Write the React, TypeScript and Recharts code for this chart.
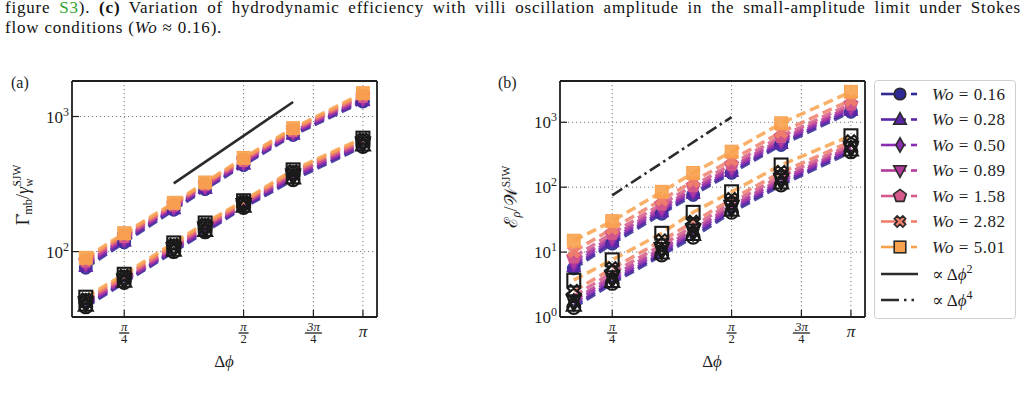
import React from 'react'
import { LineChart, Line, XAxis, YAxis, CartesianGrid } from 'recharts'

const SERIF = "'Liberation Serif', 'DejaVu Serif', serif"
const INK = '#1e1e1e'
const PI = Math.PI

// oscillation amplitude samples (rad)
const PHASE = [PI / 5, PI / 4, PI / 3, (2 * PI) / 5, PI / 2, (2 * PI) / 3, PI]

const WO = ['0.16', '0.28', '0.50', '0.89', '1.58', '2.82', '5.01']
const COLORS = ['#2d2a92', '#5a26a6', '#8b2db0', '#b23a9a', '#d5598a', '#ef7f6a', '#f8a24e']
const SHAPES = ['circle', 'triangle', 'diamond', 'triangleDown', 'pentagon', 'x', 'square']

// (a) mucus-bolus shear rate, filled markers / open markers, one row per Wo
const SHEAR_FILLED = [
  [76, 117, 204, 290, 437, 730, 1290],
  [78, 120, 208, 295, 445, 742, 1315],
  [80, 123, 212, 300, 452, 755, 1345],
  [82, 126, 216, 306, 462, 770, 1375],
  [85, 129, 221, 313, 472, 786, 1410],
  [87, 133, 225, 319, 483, 803, 1450],
  [90, 137, 230, 325, 494, 820, 1490],
]
const SHEAR_OPEN = [
  [39, 59, 100, 140, 212, 340, 600],
  [40, 60, 102, 143, 216, 350, 612],
  [41, 61, 104, 146, 220, 360, 626],
  [42, 62, 106, 150, 224, 370, 640],
  [43, 64, 109, 154, 228, 381, 656],
  [44, 66, 112, 158, 233, 392, 674],
  [46, 68, 116, 163, 238, 403, 692],
]

// (b) pumping energy over work, same layout
const ENERGY_FILLED = [
  [5.6, 13.5, 39, 76, 166, 447, 1450],
  [6.0, 14.5, 42, 81, 176, 475, 1540],
  [6.6, 15.8, 45, 87, 188, 505, 1630],
  [7.3, 17.2, 49, 94, 203, 545, 1750],
  [8.4, 19.5, 55, 105, 225, 605, 1920],
  [10.2, 23, 64, 123, 262, 705, 2200],
  [15, 30, 85, 166, 353, 966, 2950],
]
const ENERGY_OPEN = [
  [1.4, 3.3, 9.0, 17, 41, 108, 350],
  [1.5, 3.5, 9.6, 18.5, 44, 115, 370],
  [1.65, 3.8, 10.4, 20, 47, 123, 390],
  [1.8, 4.2, 11.4, 22, 51, 133, 415],
  [2.1, 4.8, 12.8, 25, 57, 148, 450],
  [2.5, 5.6, 15, 29, 65, 170, 505],
  [3.7, 7.6, 19.5, 41, 85, 220, 620],
]

// power-law guides
const SLOPE2 = [
  { phi: PI / 3, v: 320 },
  { phi: (2 * PI) / 3, v: 1280 },
]
const SLOPE4 = [
  { phi: PI / 4, v: 75 },
  { phi: PI / 2, v: 1200 },
]

const X_DOMAIN = [0.58, 3.409]
const X_MAJOR = [PI / 4, PI / 2, (3 * PI) / 4, PI]
const X_LABELS = [
  { num: 'π', den: '4' },
  { num: 'π', den: '2' },
  { num: '3π', den: '4' },
  { num: 'π', den: '' },
]
const X_MINOR = [0.6, 0.7, 0.8, 0.9, 2, 3]

const SHEAR_DOMAIN = [32.8, 1832]
const SHEAR_MAJOR = [100, 1000]
const SHEAR_MINOR = [40, 50, 60, 70, 80, 90, 200, 300, 400, 500, 600, 700, 800, 900]

const ENERGY_DOMAIN = [1, 4325]
const ENERGY_MAJOR = [1, 10, 100, 1000]
const ENERGY_MINOR = [
  2, 3, 4, 5, 6, 7, 8, 9, 20, 30, 40, 50, 60, 70, 80, 90,
  200, 300, 400, 500, 600, 700, 800, 900, 2000, 3000, 4000,
]

const rows = (vals: number[]) => PHASE.map((phi, i) => ({ phi, v: vals[i] }))

const UNIT: Record<string, number[][]> = {
  triangle: [[0, -1.1], [1, 0.75], [-1, 0.75]],
  triangleDown: [[0, 1.1], [1, -0.75], [-1, -0.75]],
  diamond: [[0, -1.15], [0.65, 0], [0, 1.15], [-0.65, 0]],
  pentagon: [0, 1, 2, 3, 4].map(k => {
    const a = -PI / 2 + (k * 2 * PI) / 5
    return [Math.cos(a) * 1.05, Math.sin(a) * 1.05]
  }),
  x: [
    [-0.5, -1], [0, -0.5], [0.5, -1], [1, -0.5], [0.5, 0], [1, 0.5],
    [0.5, 1], [0, 0.5], [-0.5, 1], [-1, 0.5], [-0.5, 0], [-1, -0.5],
  ].map(([a, b]) => [a * 0.9, b * 0.9]),
}

function Marker({ shape, cx, cy, r, fill, stroke, sw, opacity = 1 }: any) {
  if (cx == null || cy == null) return null
  const common = { fill, stroke, strokeWidth: sw, fillOpacity: opacity, strokeLinejoin: 'miter' as const }
  if (shape === 'circle') return <circle cx={cx} cy={cy} r={r * 0.92} {...common} />
  if (shape === 'square')
    return <rect x={cx - r * 0.92} y={cy - r * 0.92} width={r * 1.84} height={r * 1.84} {...common} />
  const pts = UNIT[shape].map(([a, b]) => `${cx + a * r},${cy + b * r}`).join(' ')
  return <polygon points={pts} {...common} />
}

function PhaseTick({ x, y, payload }: any) {
  const i = X_MAJOR.findIndex(t => Math.abs(t - payload.value) < 1e-6)
  const lab = X_LABELS[i]
  if (!lab) return null
  if (!lab.den) {
    return (
      <text x={x} y={y + 20} textAnchor="middle" fontSize={17} fontStyle="italic" fill={INK} fontFamily={SERIF}>
        {lab.num}
      </text>
    )
  }
  const half = lab.num.length > 1 ? 8.5 : 5
  return (
    <g fontFamily={SERIF} fill={INK}>
      <text x={x} y={y + 13.7} textAnchor="middle" fontSize={13} fontStyle="italic">
        {lab.num}
      </text>
      <line x1={x - half} x2={x + half} y1={y + 16} y2={y + 16} stroke={INK} strokeWidth={1.3} />
      <text x={x} y={y + 25.7} textAnchor="middle" fontSize={12.5}>
        {lab.den}
      </text>
    </g>
  )
}

function PowTick({ x, y, payload }: any) {
  const e = Math.round(Math.log10(payload.value))
  return (
    <text x={x - 3} y={y + 6} textAnchor="end" fontSize={17} fill={INK} fontFamily={SERIF}>
      10
      <tspan fontSize={12} dy={-7}>
        {e}
      </tspan>
    </text>
  )
}

function seriesLines(tag: string, filled: number[][], open: number[][]) {
  const out: React.ReactNode[] = []
  COLORS.forEach((c, s) => {
    const dash = { stroke: c, strokeWidth: 3.5, strokeDasharray: '10 5', strokeOpacity: 0.85 }
    out.push(
      <Line
        key={`${tag}-o-${s}`}
        data={rows(open[s])}
        dataKey="v"
        {...dash}
        isAnimationActive={false}
        activeDot={false}
        dot={(p: any) => (
          <Marker key={`${tag}-o-${s}-${p.index}`} shape={SHAPES[s]} cx={p.cx} cy={p.cy} r={7} fill="none" stroke="#1a1a1a" sw={2.1} />
        )}
      />,
    )
    out.push(
      <Line
        key={`${tag}-f-${s}`}
        data={rows(filled[s])}
        dataKey="v"
        {...dash}
        isAnimationActive={false}
        activeDot={false}
        dot={(p: any) => (
          <Marker key={`${tag}-f-${s}-${p.index}`} shape={SHAPES[s]} cx={p.cx} cy={p.cy} r={7} fill={c} stroke={c} sw={1} opacity={0.9} />
        )}
      />,
    )
  })
  return out
}

// axes get a 1px footprint (a zero-sized axis is not drawn), so margins are 1px short per axis
function Panel({ left, yDomain, yMajor, yMinor, filled, open, guide, guideDash, tag }: any) {
  const frame = { stroke: INK, strokeWidth: 1.8 }
  const logX = { dataKey: 'phi', type: 'number' as const, scale: 'log' as const, domain: X_DOMAIN, allowDataOverflow: true }
  const logY = { type: 'number' as const, scale: 'log' as const, domain: yDomain, allowDataOverflow: true }
  return (
    <div style={{ position: 'absolute', left, top: 60 }}>
      <LineChart width={400} height={330} margin={{ top: 20, right: 22, bottom: 71, left: 70 }}>
        <CartesianGrid stroke="#7a7a7a" strokeDasharray="1.2 2.8" syncWithTicks />
        <XAxis
          {...logX}
          ticks={X_MAJOR}
          interval={0}
          height={1}
          tickSize={-7}
          tickMargin={7}
          tick={<PhaseTick />}
          tickLine={{ stroke: INK, strokeWidth: 1.2 }}
          axisLine={frame}
        />
        <XAxis
          {...logX}
          xAxisId="minor"
          ticks={X_MINOR}
          interval={0}
          height={1}
          tickSize={-4}
          tick={false}
          axisLine={false}
          tickLine={{ stroke: INK, strokeWidth: 1 }}
        />
        <XAxis {...logX} xAxisId="top" orientation="top" height={1} tick={false} tickLine={false} axisLine={frame} />
        <YAxis
          {...logY}
          ticks={yMajor}
          interval={0}
          width={1}
          tickSize={-7}
          tickMargin={7}
          tick={<PowTick />}
          tickLine={{ stroke: INK, strokeWidth: 1.2 }}
          axisLine={frame}
        />
        <YAxis
          {...logY}
          yAxisId="minor"
          ticks={yMinor}
          interval={0}
          width={1}
          tickSize={-4}
          tick={false}
          axisLine={false}
          tickLine={{ stroke: INK, strokeWidth: 1 }}
        />
        <YAxis {...logY} yAxisId="right" orientation="right" width={1} tick={false} tickLine={false} axisLine={frame} />
        <Line
          data={guide}
          dataKey="v"
          stroke="#2b2b2b"
          strokeWidth={2.6}
          strokeDasharray={guideDash}
          dot={false}
          activeDot={false}
          isAnimationActive={false}
        />
        {seriesLines(tag, filled, open)}
      </LineChart>
    </div>
  )
}

const LEGEND_Y = [94, 119.5, 145, 170.5, 196, 221.5, 247]

function Overlay() {
  return (
    <svg
      width={1027}
      height={403}
      style={{ position: 'absolute', left: 0, top: 0, pointerEvents: 'none' }}
      fontFamily={SERIF}
      fill={INK}
    >
      <text x={11} y={88} fontSize={16}>(a)</text>
      <text x={498} y={88} fontSize={16}>(b)</text>

      <text x={224} y={367} textAnchor="middle" fontSize={17}>
        Δ<tspan fontStyle="italic">ϕ</tspan>
      </text>
      <text x={712} y={367} textAnchor="middle" fontSize={17}>
        Δ<tspan fontStyle="italic">ϕ</tspan>
      </text>

      <text transform="translate(29,195) rotate(-90)" textAnchor="middle" fontSize={18}>
        Γ̇<tspan fontSize={12.5} dy={3}>mb</tspan>
        <tspan dy={-3}>/</tspan>
        <tspan fontStyle="italic">γ̇</tspan>
        <tspan fontSize={11.5} dy={4}>w</tspan>
        <tspan fontSize={11.5} dx={-8} dy={-12}>SJW</tspan>
      </text>
      <text transform="translate(517,197) rotate(-90)" textAnchor="middle" fontSize={18}>
        ℰ<tspan fontSize={12.5} fontStyle="italic" dy={3}>ρ</tspan>
        <tspan dy={-3}>/</tspan>
        <tspan>𝒲</tspan>
        <tspan fontSize={11.5} dy={-7}>SJW</tspan>
      </text>

      <rect x={874.5} y={80.5} width={141} height={238} rx={3} fill="#fff" fillOpacity={0.85} stroke="#cfcfcf" />
      {WO.map((w, s) => {
        const y = LEGEND_Y[s]
        return (
          <g key={w}>
            <line x1={881} x2={906} y1={y} y2={y} stroke={COLORS[s]} strokeWidth={2.6} />
            <line x1={911} x2={917} y1={y} y2={y} stroke={COLORS[s]} strokeWidth={2.6} />
            <Marker shape={SHAPES[s]} cx={900} cy={y} r={6.3} fill={COLORS[s]} stroke="#2a2a2a" sw={1.6} />
            <text x={932} y={y + 5.5} fontSize={17} letterSpacing={0.5}>
              <tspan fontStyle="italic">Wo</tspan> = {w}
            </text>
          </g>
        )
      })}
      <line x1={881} x2={918} y1={274} y2={274} stroke="#2b2b2b" strokeWidth={2.6} />
      <text x={932} y={279.5} fontSize={17}>
        ∝ Δ<tspan fontStyle="italic">ϕ</tspan>
        <tspan fontSize={12} dy={-7}>2</tspan>
      </text>
      <line x1={881} x2={918} y1={300} y2={300} stroke="#2b2b2b" strokeWidth={2.6} strokeDasharray="18 5 2.5 5 2.5 5" />
      <text x={932} y={305.5} fontSize={17}>
        ∝ Δ<tspan fontStyle="italic">ϕ</tspan>
        <tspan fontSize={12} dy={-7}>4</tspan>
      </text>
    </svg>
  )
}

export default function App() {
  return (
    <div style={{ position: 'absolute', left: 0, top: 0, width: 1027, height: 403, background: '#fff', fontFamily: SERIF, color: '#111' }}>
      <div style={{ position: 'absolute', left: 5, top: -2, width: 1016, fontSize: 17, lineHeight: '20px', letterSpacing: 0.8 }}>
        <div style={{ textAlign: 'justify', textAlignLast: 'justify' }}>
          figure <span style={{ color: '#2ea52e' }}>S3</span>). <b>(c)</b> Variation of hydrodynamic efficiency with villi
          oscillation amplitude in the small-amplitude limit under Stokes
        </div>
        <div>
          flow conditions (<i>Wo</i> ≈ 0.16).
        </div>
      </div>
      <Panel
        tag="a"
        left={0}
        yDomain={SHEAR_DOMAIN}
        yMajor={SHEAR_MAJOR}
        yMinor={SHEAR_MINOR}
        filled={SHEAR_FILLED}
        open={SHEAR_OPEN}
        guide={SLOPE2}
        guideDash={undefined}
      />
      <Panel
        tag="b"
        left={488}
        yDomain={ENERGY_DOMAIN}
        yMajor={ENERGY_MAJOR}
        yMinor={ENERGY_MINOR}
        filled={ENERGY_FILLED}
        open={ENERGY_OPEN}
        guide={SLOPE4}
        guideDash="12 4 2.5 4"
      />
      <Overlay />
    </div>
  )
}
